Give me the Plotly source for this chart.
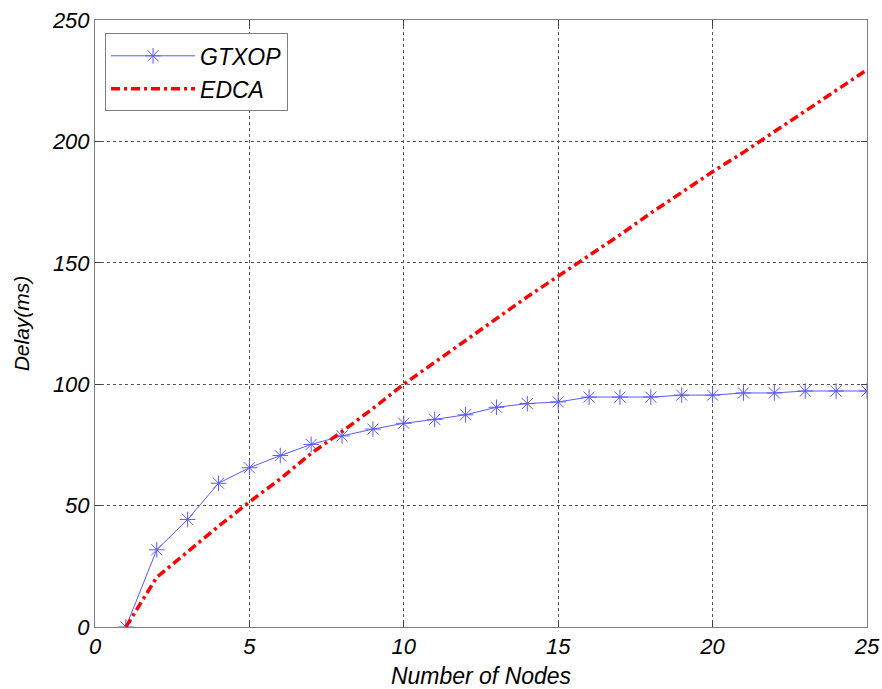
import plotly.graph_objects as go

nodes = list(range(1, 26))
gtxop = [0, 31.8, 44.3, 59.2, 65.6, 70.6, 75.2, 78.7, 81.5, 83.9, 85.5, 87.4, 90.5, 92.0, 92.7,
         94.7, 94.7, 94.7, 95.5, 95.5, 96.4, 96.4, 97.2, 97.2, 97.2]
edca = [0, 20.5, 31, 41.5, 51.5, 61, 71.5, 80.5, 90, 100, 109, 118, 127, 136, 144.5,
        153, 161.5, 170.5, 179, 187.5, 195.5, 204, 212.5, 221, 229.5]

x_ticks = [0, 5, 10, 15, 20, 25]
y_ticks = [0, 50, 100, 150, 200, 250]

font_family = "Liberation Sans, Arial, sans-serif"

fig = go.Figure()
fig.add_trace(go.Scatter(
    x=nodes, y=gtxop, name="GTXOP", mode="lines+markers",
    line=dict(color="rgb(90,90,255)", width=1),
    marker=dict(symbol="asterisk-open", size=13,
                line=dict(color="rgb(70,70,255)", width=1)),
))
fig.add_trace(go.Scatter(
    x=nodes, y=edca, name="EDCA", mode="lines",
    line=dict(color="rgb(255,0,0)", width=3.5, dash="9px,4px,3px,4px"),
))

axis_common = dict(
    showline=True, linecolor="#808080", linewidth=1, mirror="ticks",
    ticks="inside", ticklen=6, tickcolor="#404040",
    showgrid=True, gridcolor="#555555", griddash="dot", gridwidth=1,
    zeroline=False, automargin=False,
    tickfont=dict(family=font_family, size=22, color="black", style="italic"),
)

fig.update_layout(
    width=882, height=689,
    margin=dict(l=95, r=15, t=20, b=62),
    paper_bgcolor="white", plot_bgcolor="white",
    font=dict(family=font_family, color="black"),
    xaxis=dict(range=[0, 25], tickvals=x_ticks,
               title=dict(text="Number of Nodes", standoff=9,
                          font=dict(family=font_family, size=23, style="italic")),
               **axis_common),
    yaxis=dict(range=[0, 250], tickvals=y_ticks,
               title=dict(text="Delay(ms)", standoff=16,
                          font=dict(family=font_family, size=21, style="italic")),
               **axis_common),
    legend=dict(x=0.013, y=0.978, xanchor="left", yanchor="top",
                bgcolor="white", bordercolor="#808080", borderwidth=1,
                font=dict(family=font_family, size=23, style="italic"),
                itemwidth=84, tracegroupgap=2),
    showlegend=True,
)

fig.write_html(
    "out.html",
    config={"displayModeBar": False},
    post_script="document.body.style.margin='0';document.body.style.overflow='hidden';",
)
